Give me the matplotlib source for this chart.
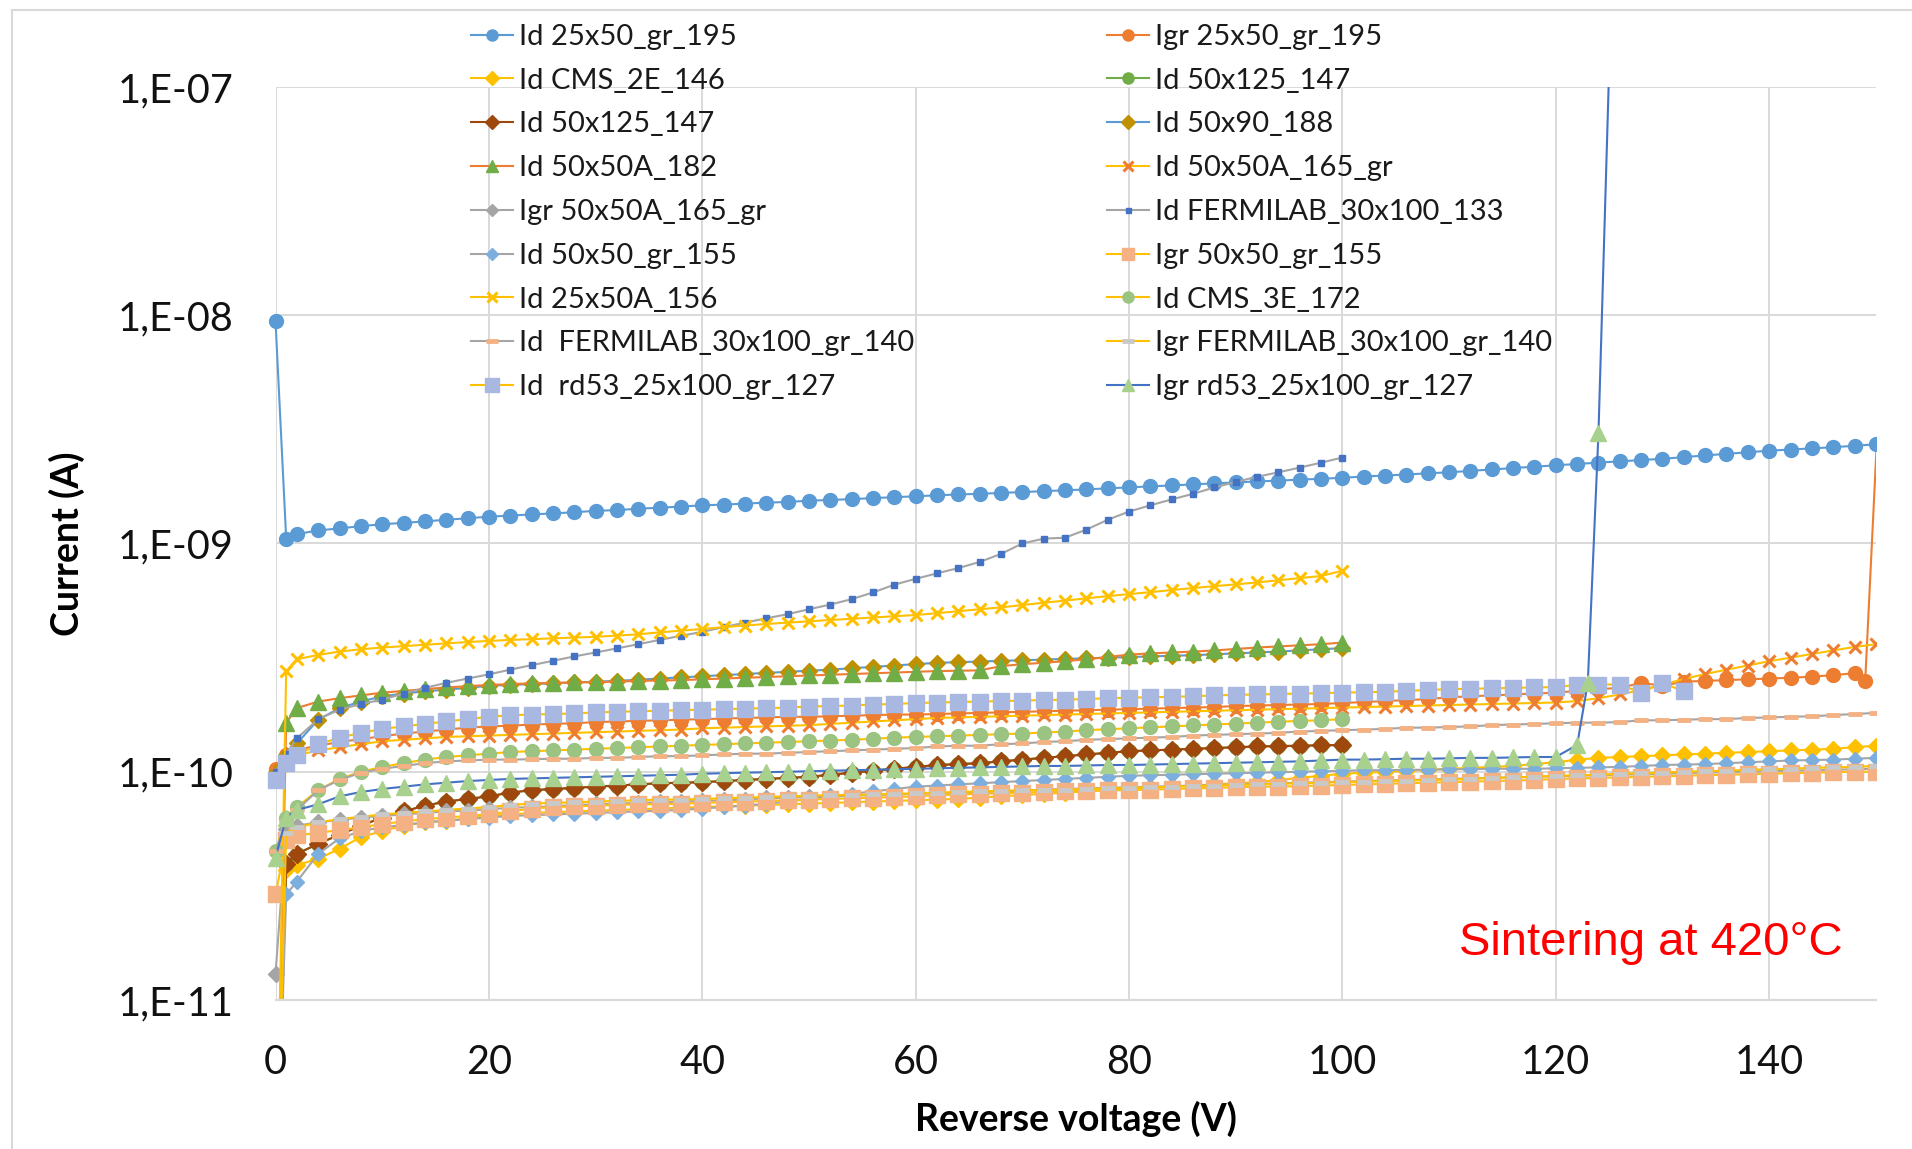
import matplotlib
matplotlib.use("Agg")
import matplotlib.pyplot as plt
from matplotlib.lines import Line2D
from matplotlib.transforms import Bbox, TransformedBbox

plt.rcParams["font.family"] = ["Lato", "DejaVu Sans"]

# measurement voltages (V)
volts_100 = [0, 1] + list(range(2, 101, 2))
volts_150 = [0, 1] + list(range(2, 151, 2))
volts_132 = [0, 1] + list(range(2, 133, 2))
volts_igr_195 = [0, 1] + list(range(2, 149, 2)) + [149, 151]
volts_igr_rd53 = [0, 1] + list(range(2, 121, 2)) + [122, 123, 124, 125]

# currents in pA
id_25x50_gr_195 = [
    9400, 1050,
    1100, 1140, 1165, 1190, 1215, 1230, 1250, 1270, 1290, 1310,
    1325, 1340, 1355, 1370, 1390, 1400, 1420, 1435, 1450, 1470,
    1480, 1495, 1510, 1520, 1540, 1550, 1565, 1580, 1595, 1610,
    1625, 1640, 1650, 1665, 1680, 1695, 1710, 1725, 1745, 1760,
    1780, 1795, 1815, 1835, 1850, 1870, 1885, 1905, 1920, 1940,
    1965, 1985, 2005, 2030, 2050, 2080, 2110, 2140, 2170, 2200,
    2230, 2260, 2290, 2320, 2350, 2390, 2430, 2470, 2510, 2550,
    2580, 2610, 2640, 2680, 2720]
igr_25x50_gr_195 = [
    103, 118,
    125, 130, 135, 139, 143, 147, 150, 153, 156, 158,
    159, 161, 162, 163, 165, 166, 167, 168, 169, 170,
    171, 172, 173, 174, 174, 175, 176, 177, 178, 178,
    179, 180, 181, 182, 183, 184, 185, 186, 187, 188,
    189, 190, 191, 192, 194, 195, 196, 197, 198, 200,
    202, 204, 206, 208, 212, 214, 216, 218, 220, 222,
    226, 230, 233, 245, 238, 248, 250, 252, 254, 256,
    258, 261, 265, 270, 249,
    21000]
id_cms_2e_146 = [
    1, 37,
    39, 41.5, 46, 51.7, 55, 58, 60, 61, 62.5, 64,
    65, 66, 66.5, 67, 67.5, 68, 68.5, 69, 69.5, 70,
    70.5, 71, 71.5, 72, 72.5, 73, 73.5, 74, 74.5, 75,
    75.5, 76, 77, 78, 79, 80, 81, 82, 83, 84,
    85, 86, 87, 88, 89, 90, 92, 94, 96, 98,
    99, 100, 101, 102, 103, 104, 105, 106, 108, 110,
    113, 115, 116, 117, 118, 119, 120, 121, 122, 123,
    124, 125, 126, 128, 130]
id_50x125_147 = [
    1, 39.5,
    43.7, 48.3, 53, 58, 63, 67, 71, 74, 76, 78,
    81, 83, 84, 85, 86, 87, 88, 89, 89.5, 90,
    91, 92, 93, 94, 95, 97, 99, 101, 103, 105,
    107, 108, 109, 111, 113, 115, 117, 119, 121, 123,
    124, 125, 126, 127, 128, 129, 129.5, 130, 130.5, 131]
id_50x90_188 = [
    100, 118,
    133, 169, 190, 203, 214, 220, 225, 229, 233, 238,
    240, 242, 244, 246, 248, 250, 253, 256, 259, 262,
    265, 268, 271, 274, 277, 280, 284, 288, 292, 296,
    300, 302, 304, 306, 308, 310, 312, 314, 316, 318,
    320, 322, 324, 327, 330, 333, 336, 340, 344, 348]
id_50x50a_182 = [
    1, 164,
    190, 203, 210, 216, 222, 226, 230, 234, 237, 240,
    242, 244, 245, 246, 247, 248, 250, 251, 252, 254,
    256, 258, 260, 262, 264, 266, 268, 270, 272, 274,
    276, 277, 278, 290, 296, 300, 305, 311, 318, 326,
    330, 333, 336, 340, 345, 350, 354, 358, 362, 368]
id_50x50a_165_gr = [
    100, 112,
    118, 124, 128, 132, 136, 138, 140, 142, 143, 144,
    145, 146, 147, 148, 149, 150, 151, 152, 153, 155,
    156, 157, 158, 159, 160, 162, 164, 166, 168, 170,
    172, 173, 174, 175, 176, 177, 178, 179, 180, 181,
    182, 183, 184, 185, 186, 187, 188, 189, 190, 191,
    192, 193, 194, 195, 196, 197, 198, 199, 200, 201,
    204, 210, 218, 228, 240, 255, 268, 280, 292, 305,
    316, 328, 340, 352, 362]
igr_50x50a_165_gr = [
    13, 56,
    58, 60, 61.5, 63, 64, 65, 66, 67, 67.5, 68.5,
    69.5, 70, 70.5, 71.5, 72, 72.5, 73, 73.5, 74, 74.5,
    75, 75.5, 76.5, 77, 77.5, 78, 78.5, 79, 79.5, 80,
    80.5, 81, 81.5, 82, 82.5, 83.5, 84, 84.5, 85, 85.5,
    86, 86.5, 87, 87.5, 88, 88.5, 89, 89.5, 90, 90.5,
    91, 91.5, 92, 92.5, 93, 93.5, 94, 94.5, 95, 95.5,
    96, 96.5, 97, 97.5, 98, 98.5, 99, 99.5, 100, 100.5,
    101, 101.5, 102, 102.5, 103]
id_fermilab_30x100_133 = [
    100, 120,
    140, 170, 187, 198, 207, 220, 233, 245, 256, 267,
    280, 293, 306, 320, 333, 347, 362, 378, 394, 410,
    430, 450, 470, 490, 515, 540, 570, 610, 660, 700,
    740, 780, 830, 900, 1000, 1050, 1060, 1150, 1270, 1380,
    1470, 1560, 1650, 1760, 1860, 1960, 2050, 2150, 2260, 2380]
id_50x50_gr_155 = [
    1, 29,
    33, 43.7, 51, 55, 57, 58.5, 60, 61, 62, 63,
    64, 64.5, 65, 65.5, 66, 66.5, 67, 67.5, 68, 69,
    70, 71, 72.5, 74, 76, 78, 80, 82, 84, 86,
    87, 88, 89, 90, 91, 92, 93, 94, 95, 96,
    96.5, 97, 97.5, 98, 98.5, 99, 99.5, 100, 100.5, 101,
    101.5, 101.5, 102, 102, 102.5, 102.5, 103, 103, 103, 103.5,
    104, 104.5, 105, 106, 107, 107.5, 108, 109, 110, 111,
    112, 112.5, 113, 114, 115]
igr_50x50_gr_155 = [
    29, 50,
    52.6, 54, 55.5, 57, 59, 60.5, 62, 63, 64, 65,
    67, 69, 70, 70.5, 71, 71.5, 72, 72, 72.5, 73,
    73.5, 74, 74.5, 75, 75.5, 76, 76.5, 77, 77.5, 78,
    79, 79.5, 80, 80.5, 81, 81.5, 82, 82.5, 83, 83,
    83.5, 84, 84.5, 85, 85.5, 86, 86, 86.5, 87, 87.5,
    88, 88.5, 89, 89.5, 90, 90.5, 91, 91.5, 92, 93,
    93.5, 94, 94.5, 95, 95.5, 96, 96.5, 97, 97.5, 98,
    98.5, 99, 99.5, 100, 100]
id_25x50a_156 = [
    1, 276,
    311, 325, 336, 344, 350, 355, 360, 365, 370, 374,
    378, 381, 384, 387, 390, 395, 400, 408, 415, 422,
    430, 437, 444, 450, 456, 462, 468, 474, 480, 486,
    495, 505, 515, 525, 537, 550, 562, 575, 588, 600,
    612, 625, 638, 650, 662, 675, 690, 705, 720, 760]
id_cms_3e_172 = [
    45, 63,
    70, 83, 93, 100, 105, 109, 113, 116, 118, 120,
    122, 123, 124, 125, 126, 127, 128, 129, 130, 131,
    132, 133, 134, 135, 136, 137, 138, 139.5, 141, 142,
    143, 144, 145, 146, 147, 148.5, 150, 152, 153.5, 155,
    156.5, 158, 159.5, 161, 162.5, 164, 165.5, 167, 168, 170]
id_fermilab_30x100_gr_140 = [
    45, 60,
    68, 83, 92, 99, 103, 106, 109, 111, 112, 113,
    113, 113.5, 114, 114, 115, 115, 116, 117, 117, 118,
    119, 120, 120, 121, 122, 123, 124, 125, 126, 127,
    129, 130, 130, 132, 133, 135, 136, 138, 139, 140,
    141, 142, 144, 145, 146, 147, 148, 150, 151, 152,
    153, 154, 156, 156, 157, 158, 160, 161, 162, 163,
    164, 164, 165, 168, 168, 169, 170, 170, 172, 173,
    174, 175, 177, 179, 181]
igr_fermilab_30x100_gr_140 = [
    1, 54,
    57, 60, 62, 63.5, 65, 66, 67, 68, 69, 70,
    71.5, 72.5, 73, 73.5, 74, 74.5, 75, 75.5, 75.5, 76,
    76.5, 77, 77.5, 78, 78.5, 79, 79, 79.5, 80, 80.5,
    81, 81.5, 82, 82.5, 83, 83, 83.5, 84, 84.5, 85,
    85.5, 86, 86.5, 87, 87.5, 88, 88.5, 89, 89.5, 90,
    90.5, 91, 91.5, 92, 92.5, 93, 94, 94.5, 95, 96,
    96.5, 97, 98, 98.5, 99, 100, 100.5, 101, 102, 102.5,
    103, 104, 104.5, 105, 106]
id_rd53_25x100_gr_127 = [
    92, 109,
    118, 132, 141, 148, 154, 158, 162, 166, 170, 174,
    177, 178, 179, 180, 182, 183, 184, 185, 186, 187,
    188, 189, 190, 191, 193, 194, 195, 197, 198, 200,
    201, 202, 203, 204, 205, 206, 207, 208, 210, 211,
    212, 213, 214, 216, 217, 218, 219, 220, 221, 222,
    223, 224, 226, 228, 230, 231, 232, 233, 234, 235,
    240, 241, 241, 222, 245, 225]
igr_rd53_25x100_gr_127 = [
    42, 63,
    68, 72, 78, 81.5, 84, 86, 88, 89.5, 91, 92,
    93, 93.5, 94, 94.5, 95, 95.5, 96, 96.5, 97, 98,
    98.5, 99, 99.5, 100, 100.5, 101, 101.5, 102, 102.5, 103,
    103.5, 104, 104.5, 105, 105.5, 106, 106, 106.5, 107, 107,
    107.5, 108, 108.5, 109, 109.5, 110, 110.5, 111, 112, 113,
    113, 113.5, 114, 114, 114.5, 115, 115, 115.5, 116, 116,
    131, 245, 3050, 120000]

y_ticks = [1e-11, 1e-10, 1e-9, 1e-8, 1e-7]
y_tick_labels = ["1,E-11", "1,E-10", "1,E-09", "1,E-08", "1,E-07"]
x_ticks = [0, 20, 40, 60, 80, 100, 120, 140]

# (label, volts, values, line colour, marker, marker colour, marker size)
series = [
    ("Id 25x50_gr_195", volts_150, id_25x50_gr_195, "#5B9BD5", "o", "#5B9BD5", 10),
    ("Igr 25x50_gr_195", volts_igr_195, igr_25x50_gr_195, "#ED7D31", "o", "#ED7D31", 10),
    ("Id CMS_2E_146", volts_150, id_cms_2e_146, "#FFC000", "D", "#FFC000", 8.5),
    ("Id 50x125_147", volts_100, id_50x125_147, "#70AD47", "o", "#70AD47", 10),
    ("Id 50x125_147", volts_100, id_50x125_147, "#9E480E", "D", "#9E480E", 9),
    ("Id 50x90_188", volts_100, id_50x90_188, "#5B9BD5", "D", "#BF9000", 8.5),
    ("Id 50x50A_182", volts_100, id_50x50a_182, "#ED7D31", "^", "#70AD47", 11),
    ("Id 50x50A_165_gr", volts_150, id_50x50a_165_gr, "#FFC000", "x", "#ED7D31", 9),
    ("Igr 50x50A_165_gr", volts_150, igr_50x50a_165_gr, "#A5A5A5", "D", "#A5A5A5", 8),
    ("Id FERMILAB_30x100_133", volts_100, id_fermilab_30x100_133, "#A5A5A5", "s", "#4472C4", 4.5),
    ("Id 50x50_gr_155", volts_150, id_50x50_gr_155, "#A5A5A5", "D", "#7CAFDD", 7.5),
    ("Igr 50x50_gr_155", volts_150, igr_50x50_gr_155, "#FFC000", "s", "#F4B183", 11),
    ("Id 25x50A_156", volts_100, id_25x50a_156, "#FFC000", "x", "#FFC000", 9),
    ("Id CMS_3E_172", volts_100, id_cms_3e_172, "#FFC000", "o", "#9BC482", 10),
    ("Id  FERMILAB_30x100_gr_140", volts_150, id_fermilab_30x100_gr_140, "#A5A5A5", "_", "#F4B183", 10),
    ("Igr FERMILAB_30x100_gr_140", volts_150, igr_fermilab_30x100_gr_140, "#FFC000", "_", "#C9C9C9", 10),
    ("Id  rd53_25x100_gr_127", volts_132, id_rd53_25x100_gr_127, "#FFC000", "s", "#A9B8E0", 12),
    ("Igr rd53_25x100_gr_127", volts_igr_rd53, igr_rd53_25x100_gr_127, "#4472C4", "^", "#A9D18E", 11),
]

fig = plt.figure(figsize=(19.12, 11.49), dpi=100)
ax = fig.add_axes([0.1441, 0.1297, 0.837, 0.7946])

# markers at V=0 sit on the plot edge, so let them spill a little to the left
clip = TransformedBbox(Bbox([[-0.012, 0.0], [1.0, 1.0]]), ax.transAxes)

handles = []
for label, volts, vals, lc, mk, mc, ms in series:
    assert len(volts) == len(vals), label
    amps = [v * 1e-12 for v in vals]
    mew = 1.0
    if mk == "x":
        mew = 2.2
    elif mk == "_":
        mew = 3.5
    ln, = ax.plot(volts, amps, color=lc, lw=1.5, marker=mk, ms=ms,
                  mfc=mc, mec=mc, mew=mew, label=label)
    ln.set_clip_path(None)
    ln.set_clip_box(clip)
    handles.append(ln)

ax.set_yscale("log")
ax.set_ylim(1e-11, 1e-7)
ax.set_xlim(0, 150)
ax.set_yticks(y_ticks)
ax.set_yticklabels(y_tick_labels)
ax.yaxis.set_minor_locator(plt.NullLocator())
ax.set_xticks(x_ticks)
ax.set_xticklabels([str(t) for t in x_ticks])
ax.tick_params(axis="both", length=0, labelsize=28.5, colors="#111111")
ax.tick_params(axis="y", pad=30)
ax.tick_params(axis="x", pad=32)

ax.grid(True, color="#D9D9D9", lw=1.4)
ax.set_axisbelow(True)
for side in ("top", "right", "left"):
    ax.spines[side].set_visible(False)
ax.spines["bottom"].set_color("#D9D9D9")
ax.spines["bottom"].set_linewidth(1.6)

ax.set_xlabel("Reverse voltage (V)", fontsize=27, fontweight="bold")
ax.xaxis.set_label_coords(0.5, -0.1303)
ax.xaxis.label.set_va("center")
ax.set_ylabel("Current (A)", fontsize=27, fontweight="bold")
ax.yaxis.set_label_coords(-0.1303, 0.5)
ax.yaxis.label.set_va("center")

leg_kw = dict(loc="upper left", bbox_transform=fig.transFigure, frameon=False,
              borderpad=0, borderaxespad=0, handlelength=1.45,
              handletextpad=0.2, labelspacing=0.61, fontsize=21,
              markerscale=0.8, labelcolor="#1a1a1a")
leg1 = ax.legend(handles=handles[0::2], bbox_to_anchor=(0.2463, 0.9792), **leg_kw)
ax.add_artist(leg1)
ax.legend(handles=handles[1::2], bbox_to_anchor=(0.579, 0.9792), **leg_kw)

fig.text(0.8632, 0.1793, "Sintering at 420°C", color="#FF0000", fontsize=34,
         family="Liberation Sans", ha="center", va="center")

# light chart-area border (top and left edges visible in the crop)
fig.add_artist(Line2D([0.0063, 1.0], [0.9917, 0.9917], transform=fig.transFigure,
                      color="#D9D9D9", lw=1.5))
fig.add_artist(Line2D([0.0063, 0.0063], [0.0, 0.9917], transform=fig.transFigure,
                      color="#D9D9D9", lw=1.5))

fig.savefig("out.png", dpi=100)
